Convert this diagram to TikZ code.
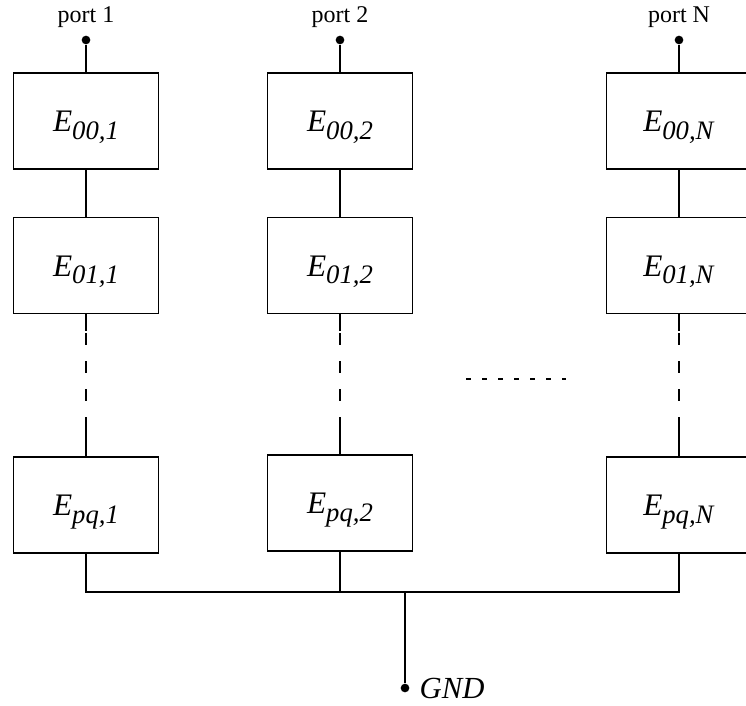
\documentclass[tikz,border=0pt]{standalone}
\usepackage{fontspec}
\setmainfont{Liberation Serif}
\usetikzlibrary{calc}

\newcommand{\elab}[2]{{\fontsize{23.5pt}{28pt}\selectfont\textit{E}}\raisebox{-5.7pt}{\fontsize{20pt}{24pt}\selectfont\textit{#1,#2}}}

\begin{document}
\begin{tikzpicture}[x=0.75pt,y=-0.75pt,line width=1pt,
    blk/.style={draw,minimum width=108.75pt,minimum height=72pt,inner sep=0pt,text height=16pt,text depth=0pt},
    dot/.style={circle,fill,inner sep=0pt,minimum size=6.5pt},
    lbl/.style={anchor=base,inner sep=0pt,font=\fontsize{18pt}{22pt}\selectfont},
    brk/.style={dash pattern=on 9pt off 12pt,dash phase=19.5pt}]
  \useasboundingbox (0,0) rectangle (746,706);

  % column 1
  \node[lbl] (t1) at (86,23) {port 1};
  \node[dot] (p1) at (86,40) {};
  \node[blk] (e00-1) at (86,121) {\elab{00}{1}};
  \node[blk] (e01-1) at (86,265.5) {\elab{01}{1}};
  \node[blk] (epq-1) at (86,505) {\elab{pq}{1}};

  % column 2
  \node[lbl] (t2) at (340,23) {port 2};
  \node[dot] (p2) at (340,40) {};
  \node[blk] (e00-2) at (340,121) {\elab{00}{2}};
  \node[blk] (e01-2) at (340,265.5) {\elab{01}{2}};
  \node[blk] (epq-2) at (340,503) {\elab{pq}{2}};

  % column N
  \node[lbl] (tN) at (679,23) {port N};
  \node[dot] (pN) at (679,40) {};
  \node[blk] (e00-N) at (679,121) {\elab{00}{N}};
  \node[blk] (e01-N) at (679,265.5) {\elab{01}{N}};
  \node[blk] (epq-N) at (679,505) {\elab{pq}{N}};

  % links
  \draw (p1) -- (e00-1);
  \draw (p2) -- (e00-2);
  \draw (pN) -- (e00-N);
  \draw (e00-1) -- (e01-1);
  \draw (e00-2) -- (e01-2);
  \draw (e00-N) -- (e01-N);

  \draw (e01-1.south) -- ++(0,17) coordinate (a1);
  \draw (epq-1.north) -- ++(0,-29) coordinate (b1);
  \draw[brk] (a1) -- (b1);
  \draw (e01-2.south) -- ++(0,17) coordinate (a2);
  \draw (epq-2.north) -- ++(0,-27) coordinate (b2);
  \draw[brk] (a2) -- (b2);
  \draw (e01-N.south) -- ++(0,17) coordinate (aN);
  \draw (epq-N.north) -- ++(0,-29) coordinate (bN);
  \draw[brk] (aN) -- (bN);

  \draw[dash pattern=on 4pt off 8pt] (466,379) -- (566,379);

  % ground
  \coordinate (tap) at (405,592);
  \node[dot] (gnd) at (405,688) {};
  \node[anchor=base west,inner sep=0pt,font=\fontsize{23pt}{27pt}\selectfont\itshape] (gndt) at (419,698) {GND};
  \draw (epq-1.south) |- (tap) -| (epq-N.south);
  \draw (epq-2.south) -- (epq-2.south |- tap);
  \draw (tap) -- (gnd);
\end{tikzpicture}
\end{document}
